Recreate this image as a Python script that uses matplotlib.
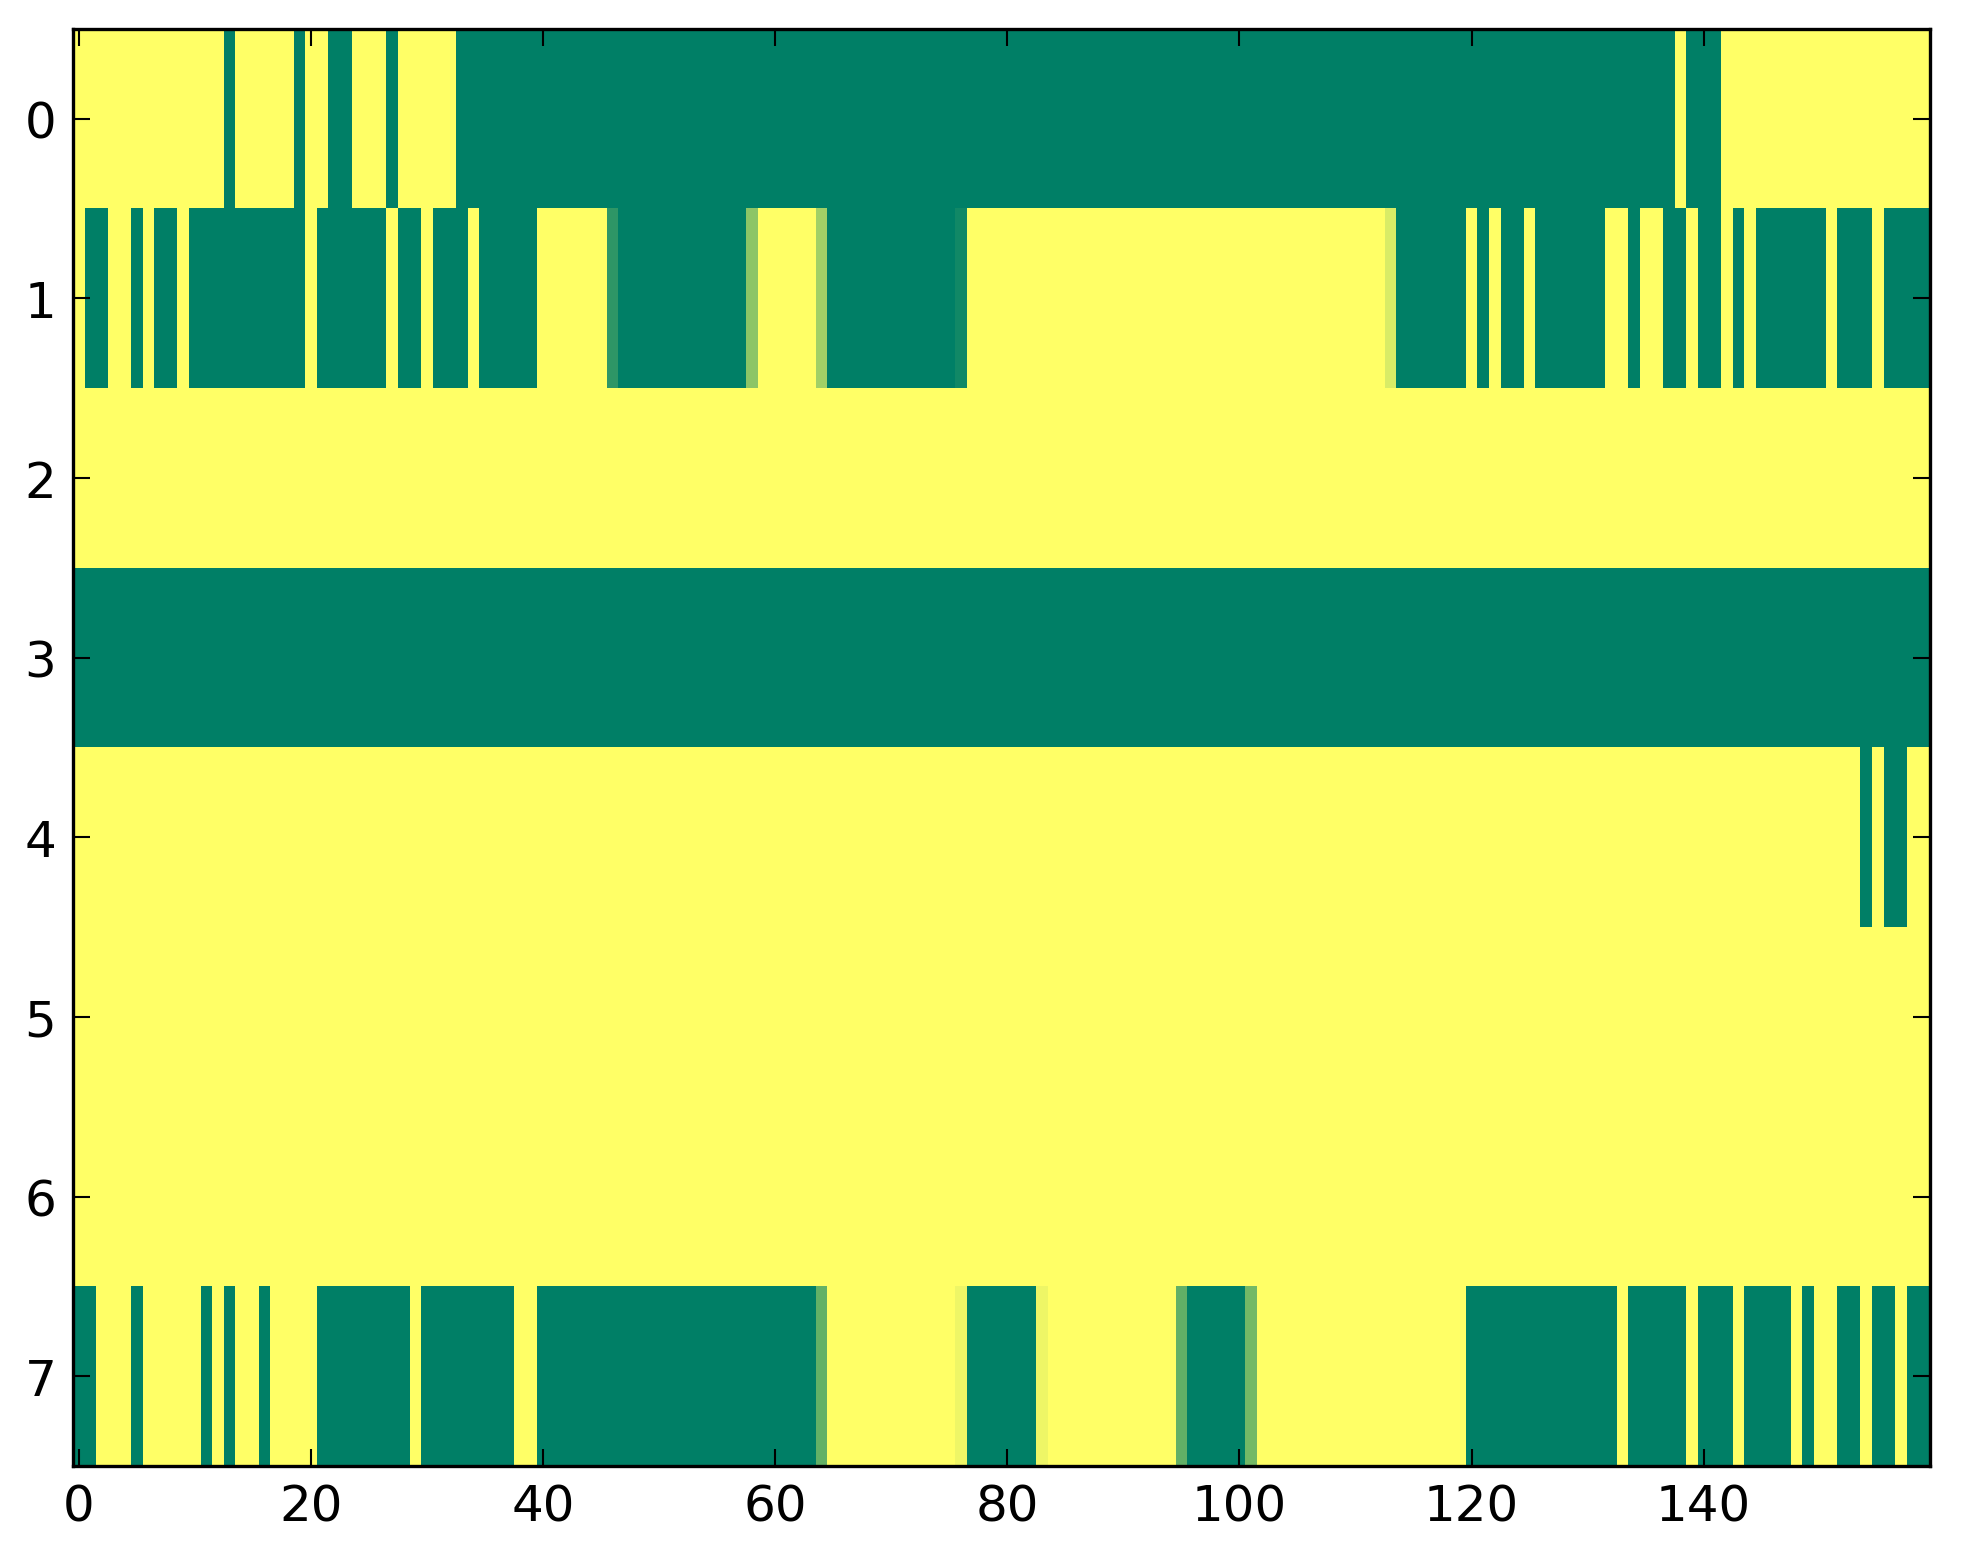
import numpy as np
import matplotlib
matplotlib.use("Agg")
import matplotlib.pyplot as plt

# values per row (1 = yellow end of colormap, 0 = green end)
row0 = [1,1,1,1,1,1,1,1,1,1, 1,1,1,0,1,1,1,1,1,0,
        1,1,0,0,1,1,1,0,1,1, 1,1,1,0,0,0,0,0,0,0,
        0,0,0,0,0,0,0,0,0,0, 0,0,0,0,0,0,0,0,0,0,
        0,0,0,0,0,0,0,0,0,0, 0,0,0,0,0,0,0,0,0,0,
        0,0,0,0,0,0,0,0,0,0, 0,0,0,0,0,0,0,0,0,0,
        0,0,0,0,0,0,0,0,0,0, 0,0,0,0,0,0,0,0,0,0,
        0,0,0,0,0,0,0,0,0,0, 0,0,0,0,0,0,0,0,1,0,
        0,0,1,1,1,1,1,1,1,1, 1,1,1,1,1,1,1,1,1,1]
row1 = [1,0,0,1,1,0,1,0,0,1, 0,0,0,0,0,0,0,0,0,0,
        1,0,0,0,0,0,0,1,0,0, 1,0,0,0,1,0,0,0,0,0,
        1,1,1,1,1,1,0.18,0,0,0, 0,0,0,0,0,0,0,0,0.55,1,
        1,1,1,1,0.63,0,0,0,0,0, 0,0,0,0,0,0,0.07,1,1,1,
        1,1,1,1,1,1,1,1,1,1, 1,1,1,1,1,1,1,1,1,1,
        1,1,1,1,1,1,1,1,1,1, 1,1,1,0.85,0,0,0,0,0,0,
        1,0,1,0,0,1,0,0,0,0, 0,0,1,1,0,1,1,0,0,1,
        0,0,1,0,1,0,0,0,0,0, 0,1,0,0,0,1,0,0,0,0]
row2 = [1] * 160
row3 = [0] * 160
row4 = [1,1,1,1,1,1,1,1,1,1, 1,1,1,1,1,1,1,1,1,1,
        1,1,1,1,1,1,1,1,1,1, 1,1,1,1,1,1,1,1,1,1,
        1,1,1,1,1,1,1,1,1,1, 1,1,1,1,1,1,1,1,1,1,
        1,1,1,1,1,1,1,1,1,1, 1,1,1,1,1,1,1,1,1,1,
        1,1,1,1,1,1,1,1,1,1, 1,1,1,1,1,1,1,1,1,1,
        1,1,1,1,1,1,1,1,1,1, 1,1,1,1,1,1,1,1,1,1,
        1,1,1,1,1,1,1,1,1,1, 1,1,1,1,1,1,1,1,1,1,
        1,1,1,1,1,1,1,1,1,1, 1,1,1,1,0,1,0,0,1,1]
row5 = [1] * 160
row6 = [1] * 160
row7 = [0,0,1,1,1,0,1,1,1,1, 1,0,1,0,1,1,0,1,1,1,
        1,0,0,0,0,0,0,0,0,1, 0,0,0,0,0,0,0,0,1,1,
        0,0,0,0,0,0,0,0,0,0, 0,0,0,0,0,0,0,0,0,0,
        0,0,0,0,0.39,1,1,1,1,1, 1,1,1,1,1,1,0.93,0,0,0,
        0,0,0,0.93,1,1,1,1,1,1, 1,1,1,1,1,0.38,0,0,0,0,
        0,0.45,1,1,1,1,1,1,1,1, 1,1,1,1,1,1,1,1,1,1,
        0,0,0,0,0,0,0,0,0,0, 0,0,0,1,0,0,0,0,0,1,
        0,0,0,1,0,0,0,0,1,0, 1,1,0,0,1,0,0,1,0,0]

xticks = [0, 20, 40, 60, 80, 100, 120, 140]
yticks = [0, 1, 2, 3, 4, 5, 6, 7]

data = np.array([row0, row1, row2, row3, row4, row5, row6, row7], dtype=float)

DPI = 300
fig = plt.figure(figsize=(1963 / DPI, 1564 / DPI), dpi=DPI)
ax = fig.add_axes([73 / 1963, 1 - 1467 / 1564, (1930 - 73) / 1963, (1467 - 30) / 1564])
ax.imshow(data, cmap="summer", vmin=0, vmax=1, aspect="auto", interpolation="nearest")

ax.set_xticks(xticks)
ax.set_yticks(yticks)
ax.tick_params(direction="in", top=True, right=True, length=4, width=0.5,
               labelsize=12, pad=4, color="black")
for s in ax.spines.values():
    s.set_linewidth(0.8)
    s.set_color("black")

fig.savefig("out.png", dpi=DPI)
